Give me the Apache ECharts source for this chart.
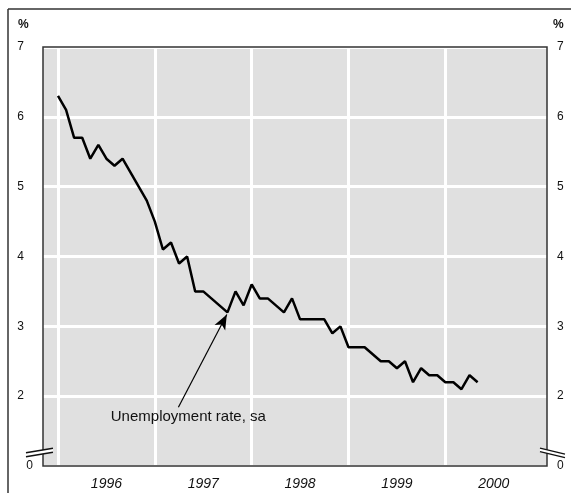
<!DOCTYPE html>
<html>
<head>
<meta charset="utf-8">
<script src="https://cdn.jsdelivr.net/npm/echarts@6/dist/echarts.min.js"></script>
<style>
html,body{margin:0;padding:0;background:#fff;}
#chart{width:571px;height:493px;}
</style>
</head>
<body>
<div id="chart"></div>
<script>
// Monthly observations, Jan 1996 .. May 2000
var months = ['1996-01','1996-02','1996-03','1996-04','1996-05','1996-06','1996-07','1996-08','1996-09','1996-10','1996-11','1996-12',
              '1997-01','1997-02','1997-03','1997-04','1997-05','1997-06','1997-07','1997-08','1997-09','1997-10','1997-11','1997-12',
              '1998-01','1998-02','1998-03','1998-04','1998-05','1998-06','1998-07','1998-08','1998-09','1998-10','1998-11','1998-12',
              '1999-01','1999-02','1999-03','1999-04','1999-05','1999-06','1999-07','1999-08','1999-09','1999-10','1999-11','1999-12',
              '2000-01','2000-02','2000-03','2000-04','2000-05'];
var unemploymentRate = [6.3,6.1,5.7,5.7,5.4,5.6,5.4,5.3,5.4,5.2,5.0,4.8,
                        4.5,4.1,4.2,3.9,4.0,3.5,3.5,3.4,3.3,3.2,3.5,3.3,
                        3.6,3.4,3.4,3.3,3.2,3.4,3.1,3.1,3.1,3.1,2.9,3.0,
                        2.7,2.7,2.7,2.6,2.5,2.5,2.4,2.5,2.2,2.4,2.3,2.3,
                        2.2,2.2,2.1,2.3,2.2];
var years = ['1996','1997','1998','1999','2000'];
var yTicks = [1,2,3,4,5,6,7];          // bottom tick (broken axis) is labelled 0
var seriesName = 'Unemployment rate, sa';

var FONT = '"Liberation Sans", Arial, sans-serif';
function monthIndex(s){ var p = s.split('-'); return (parseInt(p[0],10)-1996)*12 + parseInt(p[1],10)-1; }
var lineData = months.map(function(m,i){ return [monthIndex(m), unemploymentRate[i]]; });
var yearStarts = years.map(function(y){ return monthIndex(y+'-01'); });
var yearMids = yearStarts.map(function(v){ return v+6; });

var xMin = -1.86, xMax = 60.6;

function yLabel(v, side){
  if (v === yTicks[0]) return '0';
  return side === 'left' ? '{p|' + v + '}' : String(v);
}

var chart = echarts.init(document.getElementById('chart'), null, {renderer:'canvas'});
var option = {
  animation:false,
  backgroundColor:'#ffffff',
  grid:{left:43, top:47, right:24, bottom:27, show:true, backgroundColor:'#e0e0e0', borderWidth:0},
  xAxis:{
    type:'value', min:xMin, max:xMax,
    axisLine:{show:false}, axisTick:{show:false}, splitLine:{show:false},
    axisLabel:{
      customValues: yearMids,
      formatter:function(v){ var k = yearMids.indexOf(Math.round(v)); return k>=0 ? years[k] : ''; },
      fontFamily:FONT, fontSize:14, fontStyle:'italic', color:'#111', margin:11
    }
  },
  yAxis:[
    {type:'value', min:1, max:7, interval:1, position:'left',
     axisLine:{show:false}, axisTick:{show:false},
     splitLine:{show:true, lineStyle:{color:'#ffffff', width:3}},
     axisLabel:{formatter:function(v){return yLabel(v,'left');}, fontFamily:FONT, fontSize:12, color:'#111', margin:10,
       rich:{p:{fontFamily:FONT, fontSize:12, color:'#111', padding:[0,9,0,0]}}}
    },
    {type:'value', min:1, max:7, interval:1, position:'right',
     axisLine:{show:false}, axisTick:{show:false}, splitLine:{show:false},
     axisLabel:{formatter:function(v){return yLabel(v,'right');}, fontFamily:FONT, fontSize:12, color:'#111', margin:10}
    }
  ],
  series:[
    {type:'line', z:1, data:[], silent:true,
     markLine:{silent:true, symbol:['none','none'], label:{show:false},
       lineStyle:{color:'#ffffff', width:3, type:'solid'},
       data: yearStarts.map(function(v){ return {xAxis:v}; })}
    },
    {type:'line', name:seriesName, zlevel:1, z:3, data:lineData, showSymbol:false, symbol:'none',
     lineStyle:{color:'#000', width:2.5}, itemStyle:{color:'#000'},
     markLine:{silent:true, symbol:['none','arrow'], symbolSize:[9,15], label:{show:false},
       lineStyle:{color:'#000', width:1.2, type:'solid'},
       data:[[{coord:[14.92,1.84]},{coord:[20.92,3.17]}]]}
    }
  ]
};
chart.setOption(option);

// decorations: outer frame, plot border, % units, annotation text, axis break marks
var tl = chart.convertToPixel({xAxisIndex:0, yAxisIndex:0}, [xMin, 7]);
var br = chart.convertToPixel({xAxisIndex:0, yAxisIndex:0}, [xMax, 1]);
var yb = chart.convertToPixel({xAxisIndex:0, yAxisIndex:0}, [xMin, 1.24])[1];
var txt = chart.convertToPixel({xAxisIndex:0, yAxisIndex:0}, [6.54, 1.70]);
var L = tl[0], R = br[0];
chart.setOption({
  graphic:[
    {type:'line', zlevel:2, shape:{x1:8, y1:9, x2:8, y2:493}, style:{stroke:'#333', lineWidth:1.5}},
    {type:'line', zlevel:2, shape:{x1:8, y1:9, x2:571, y2:9}, style:{stroke:'#333', lineWidth:1.5}},
    {type:'rect', zlevel:2, z:1, shape:{x:L, y:tl[1], width:R-L, height:br[1]-tl[1]}, style:{fill:'none', stroke:'#333', lineWidth:1.5}},
    {type:'text', zlevel:2, x:18, y:25, style:{text:'%', font:'bold 12px '+FONT, fill:'#111', textVerticalAlign:'middle'}},
    {type:'text', zlevel:2, x:553, y:25, style:{text:'%', font:'bold 12px '+FONT, fill:'#111', textVerticalAlign:'middle'}},
    {type:'text', zlevel:2, x:txt[0], y:txt[1], style:{text:seriesName, font:'15px '+FONT, fill:'#111', textVerticalAlign:'middle'}},
    // left break
    {type:'polygon', zlevel:2, z:5, shape:{points:[[L-17,yb+4],[L+10,yb-1],[L+10,yb+3],[L-17,yb+8]]}, style:{fill:'#ffffff'}},
    {type:'line', zlevel:2, z:6, shape:{x1:L-17, y1:yb+3.5, x2:L+10, y2:yb-1}, style:{stroke:'#111', lineWidth:1.3}},
    {type:'line', zlevel:2, z:6, shape:{x1:L-17, y1:yb+7.5, x2:L+10, y2:yb+3}, style:{stroke:'#111', lineWidth:1.3}},
    // right break
    {type:'polygon', zlevel:2, z:5, shape:{points:[[R-7,yb-1],[R+18,yb+5],[R+18,yb+9],[R-7,yb+2]]}, style:{fill:'#ffffff'}},
    {type:'line', zlevel:2, z:6, shape:{x1:R-7, y1:yb-1, x2:R+18, y2:yb+5}, style:{stroke:'#111', lineWidth:1.3}},
    {type:'line', zlevel:2, z:6, shape:{x1:R-7, y1:yb+2.5, x2:R+18, y2:yb+8.5}, style:{stroke:'#111', lineWidth:1.3}}
  ]
});
</script>
</body>
</html>
